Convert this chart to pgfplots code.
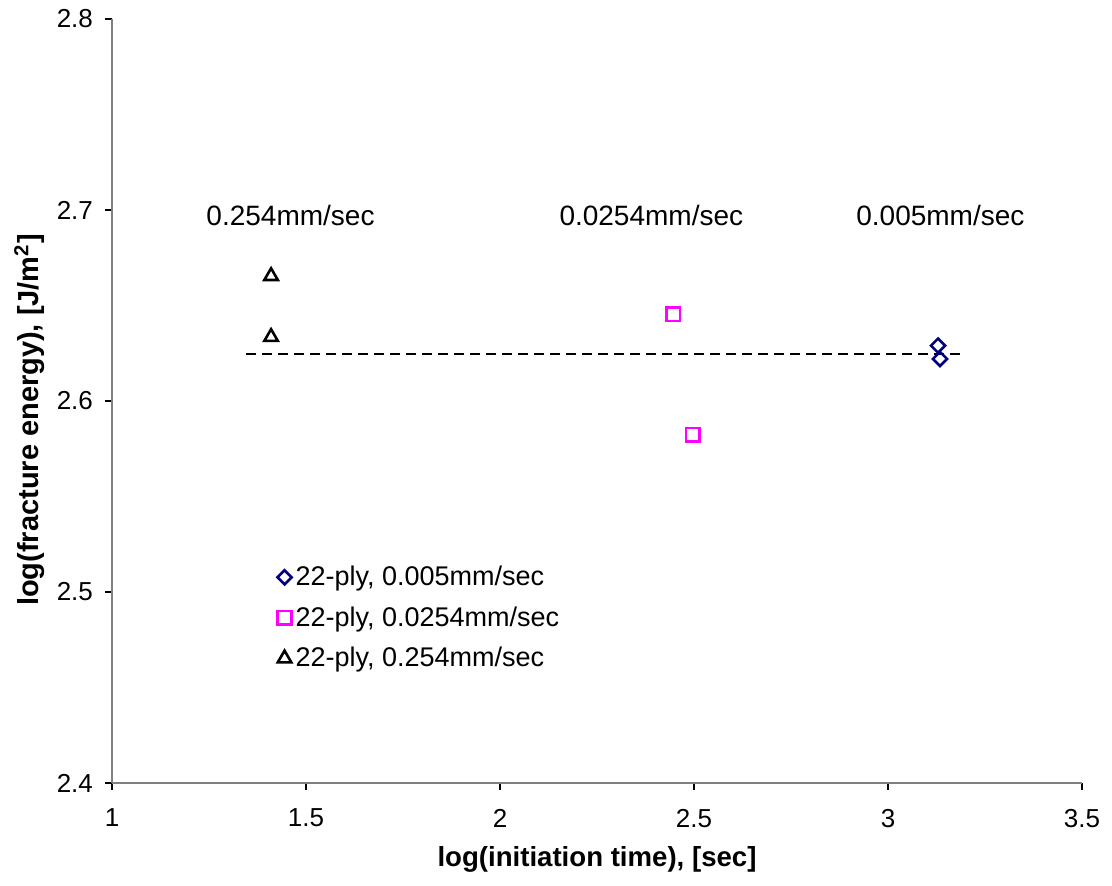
\documentclass[border=0pt]{standalone}
\usepackage{fontspec}
\setmainfont{Liberation Sans}
\usepackage{pgfplots}
\pgfplotsset{compat=1.18}
\definecolor{navyd}{RGB}{0,0,128}
\definecolor{magd}{RGB}{255,0,255}
\definecolor{axgray}{RGB}{128,128,128}
\begin{document}
\begin{tikzpicture}
\begin{axis}[
  scale only axis,
  width=485pt, height=382pt,
  xmin=1, xmax=3.5, ymin=2.4, ymax=2.8,
  xtick={1,1.5,...,3.5}, ytick={2.4,2.5,2.6,2.7,2.8},
  xticklabels={1,1.5,2,2.5,3,3.5},
  yticklabels={2.4,2.5,2.6,2.7,2.8},
  axis x line*=bottom, axis y line*=left,
  axis line style={axgray, line width=1pt},
  tick style={black, line width=0.6pt},
  tick align=outside, major tick length=3.5pt,
  /pgf/number format/assume math mode=true,
  ticklabel style={font=\fontsize{13}{15}\selectfont},
  xticklabel style={yshift=-6pt},
  yticklabel style={xshift=-2.5pt},
  xlabel={\textbf{log(initiation time), [sec]}},
  ylabel={\textbf{log(fracture energy), [J/m\textsuperscript{2}]}},
  xlabel style={font=\fontsize{13.8}{16}\selectfont, at={(axis description cs:0.5,-0.1)}, anchor=center},
  ylabel style={font=\fontsize{14.5}{17}\selectfont, at={(axis description cs:-0.085,0.475)}, anchor=center},
  clip=false,
  legend cell align=left,
  legend style={at={(axis cs:1.41,2.518)}, anchor=north west, draw=none, fill=none,
    font=\fontsize{13.5}{16}\selectfont, row sep=5pt},
]
\addplot[only marks, mark=square, mark size=2.5pt, mark options={rotate=45, draw=navyd, line width=1.3pt, fill=white}]
  coordinates {(3.129,2.629) (3.134,2.622)};
\addlegendentry{22-ply, 0.005mm/sec}
\addplot[only marks, mark=square, mark size=3.4pt, mark options={draw=magd, line width=1.3pt, fill=white}]
  coordinates {(2.446,2.6455) (2.497,2.5822)};
\addlegendentry{22-ply, 0.0254mm/sec}
\addplot[only marks, mark=triangle, mark size=3.9pt, mark options={draw=black, line width=1.3pt, fill=white}]
  coordinates {(1.41,2.6654) (1.41,2.6335)};
\addlegendentry{22-ply, 0.254mm/sec}
\addplot[black, dashed, line width=1pt, dash pattern=on 5pt off 3pt, forget plot]
  coordinates {(1.345,2.6246) (3.195,2.6246)};
\node[font=\fontsize{14}{16}\selectfont] at (axis cs:1.46,2.697) {0.254mm/sec};
\node[font=\fontsize{14}{16}\selectfont] at (axis cs:2.39,2.697) {0.0254mm/sec};
\node[font=\fontsize{14}{16}\selectfont] at (axis cs:3.135,2.697) {0.005mm/sec};
\end{axis}
\path (-56pt,-51.5pt) rectangle (500pt,391.5pt);
\end{tikzpicture}
\end{document}
